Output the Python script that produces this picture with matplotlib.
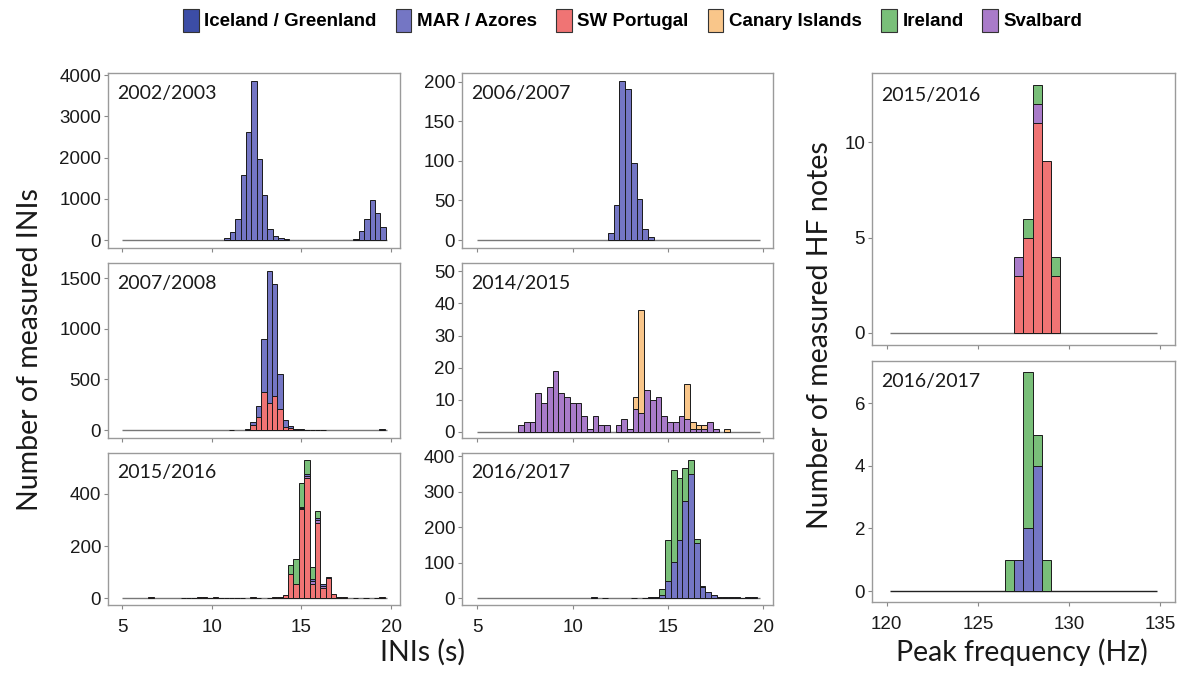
import matplotlib
matplotlib.use('Agg')
import matplotlib.pyplot as plt
import numpy as np
from matplotlib.patches import Patch

# regions and colours -------------------------------------------------
regions = ['Iceland / Greenland', 'MAR / Azores', 'SW Portugal', 'Canary Islands', 'Ireland', 'Svalbard']
region_colors = ['#3C4DA6', '#7476C4', '#F07474', '#F9C68A', '#79BF79', '#A97BC9']
ICE, MAR, POR, CAN, IRE, SVA = range(6)

ini_width = 0.3   # s
hf_width = 0.5    # Hz
ini_range = [5.0, 19.8]
hf_range = [120.2, 134.8]

# INIs, counts per bin (first bin centre given by *_start) ------------
y0203_start = 10.85
y0203_mar = [40, 200, 520, 1570, 2630, 3860, 1970, 1085, 265, 105, 50, 25,
             0, 0, 0, 0, 0, 0, 0, 0, 0, 0, 0, 0,
             25, 225, 506, 964, 667, 321]

y0607_start = 12.0
y0607_mar = [9, 44, 201, 191, 97, 52, 14, 4]

y0708_start = 11.1
y0708_portugal = [0, 0, 0, 0, 50, 130, 375, 267, 332, 205, 33, 16, 5, 5, 0,
                  0, 0, 0, 0, 0, 0, 0, 0, 0, 0, 0, 0, 0, 0]
y0708_mar = [5, 0, 0, 8, 25, 110, 525, 1303, 1108, 350, 65, 24, 5, 8, 5,
             3, 3, 3, 0, 0, 0, 0, 0, 0, 0, 0, 0, 0, 10]

y1415_start = 7.3
y1415_svalbard = [2, 3, 3, 12, 9, 14, 19, 12, 11, 9, 9, 5, 1, 5, 2, 2, 0, 2, 4,
                  1, 7, 6, 13, 10, 11, 5, 3, 3, 5, 4, 1, 1, 1, 3, 1, 0, 0]
y1415_canary = [0, 0, 0, 0, 0, 0, 0, 0, 0, 0, 0, 0, 0, 0, 0, 0, 0, 0, 0,
                0, 4, 32, 0, 0, 0, 0, 0, 0, 0, 11, 2, 1, 1, 0, 0, 0, 1]

y1516_start = 6.6
y1516_portugal = [3, 0, 0, 0, 0, 0, 2, 2, 2, 3, 4, 2, 4, 2, 2, 2, 2, 2, 0, 6,
                  2, 0, 2, 3, 5, 13, 94, 56, 341, 460, 55, 289, 39, 78, 16, 4,
                  3, 0, 2, 0, 2, 0, 2, 3]
y1516_svalbard = [0, 0, 0, 0, 0, 0, 0, 0, 0, 0, 0, 0, 0, 0, 0, 0, 0, 0, 0, 0,
                  0, 0, 0, 0, 0, 0, 0, 0, 6, 10, 10, 10, 8, 3, 0, 0,
                  0, 0, 0, 0, 0, 0, 0, 0]
y1516_mar = [0, 0, 0, 0, 0, 0, 0, 0, 0, 0, 0, 0, 0, 0, 0, 0, 0, 0, 0, 0,
             0, 0, 0, 0, 0, 0, 0, 0, 4, 6, 10, 10, 8, 0, 0, 0,
             0, 0, 0, 0, 0, 0, 0, 0]
y1516_ireland = [0, 0, 0, 0, 0, 0, 0, 0, 0, 0, 0, 0, 0, 0, 0, 0, 0, 0, 0, 0,
                 0, 0, 0, 0, 0, 0, 33, 94, 91, 55, 46, 27, 0, 0, 0, 0,
                 0, 0, 0, 0, 0, 0, 0, 0]

y1617_start = 10.8
y1617_mar = [0, 2, 0, 1, 0, 0, 0, 0, 1, 0, 1, 2, 3, 9, 47, 101, 163, 274, 350,
             156, 30, 16, 9, 4, 3, 2, 2, 1, 2, 2]
y1617_ireland = [0, 0, 0, 0, 0, 0, 0, 0, 0, 0, 0, 0, 0, 17, 117, 261, 176, 92,
                 40, 10, 3, 0, 0, 0, 0, 0, 0, 0, 0, 0]

# HF notes peak frequency ----------------------------------------------
hf1516_start = 127.25
hf1516_portugal = [3, 5, 11, 9, 3]
hf1516_svalbard = [1, 0, 1, 0, 0]
hf1516_ireland = [0, 1, 1, 0, 1]

hf1617_start = 126.75
hf1617_mar = [0, 1, 2, 4, 0]
hf1617_ireland = [1, 0, 5, 1, 1]

# panels: (title, start, layers bottom->top, yticks, ymax)
ini_panels = [
    ('2002/2003', y0203_start, [(MAR, y0203_mar)], [0, 1000, 2000, 3000, 4000], None),
    ('2006/2007', y0607_start, [(MAR, y0607_mar)], [0, 50, 100, 150, 200], None),
    ('2007/2008', y0708_start, [(POR, y0708_portugal), (MAR, y0708_mar)], [0, 500, 1000, 1500], None),
    ('2014/2015', y1415_start, [(SVA, y1415_svalbard), (CAN, y1415_canary)], [0, 10, 20, 30, 40, 50], 52.6),
    ('2015/2016', y1516_start, [(POR, y1516_portugal), (SVA, y1516_svalbard), (MAR, y1516_mar),
                                (IRE, y1516_ireland)], [0, 200, 400], None),
    ('2016/2017', y1617_start, [(MAR, y1617_mar), (IRE, y1617_ireland)], [0, 100, 200, 300, 400], None),
]
hf_panels = [
    ('2015/2016', hf1516_start, [(POR, hf1516_portugal), (SVA, hf1516_svalbard), (IRE, hf1516_ireland)],
     [0, 5, 10], None),
    ('2016/2017', hf1617_start, [(MAR, hf1617_mar), (IRE, hf1617_ireland)], [0, 2, 4, 6], None),
]

W, H = 1185, 675
fig = plt.figure(figsize=(W / 100, H / 100), dpi=100)


def add_ax(l, t, r, b):
    return fig.add_axes([l / W, 1 - b / H, (r - l) / W, (b - t) / H])


def draw_panel(ax, title, start, width, layers, yticks, ymax, xr, xlim, xticks, show_xlabels, base_col, ty):
    n = len(layers[0][1])
    centers = start + width * np.arange(n)
    bottom = np.zeros(n)
    ax.hlines(0, xr[0], xr[1], color=base_col, lw=1.0, zorder=1)
    for reg, counts in layers:
        counts = np.array(counts, dtype=float)
        m = counts > 0
        ax.bar(centers[m], counts[m], width=width, bottom=bottom[m], color=region_colors[reg],
               edgecolor='#1a1a1a', linewidth=0.7, zorder=2)
        bottom += counts
    top = ymax if ymax is not None else bottom.max() * 1.05
    ax.set_ylim(-0.05 * bottom.max(), top)
    ax.set_xlim(*xlim)
    ax.set_yticks(yticks)
    ax.set_xticks(xticks)
    if not show_xlabels:
        ax.set_xticklabels([])
    for s in ax.spines.values():
        s.set_color('#9a9a9a')
        s.set_linewidth(1.0)
    ax.tick_params(direction='out', length=3, color='#888888', labelsize=13.5, labelcolor='#1a1a1a', pad=2)
    ax.tick_params(axis='x', pad=7)
    for lab in ax.get_xticklabels() + ax.get_yticklabels():
        lab.set_family('Liberation Sans')
    ax.text(0.03, ty, title, transform=ax.transAxes, ha='left', va='top',
            fontsize=14, family='Lato', color='#1a1a1a')


cols = [(108, 400), (462, 773)]
rows = [(73, 248), (263, 438), (453, 605)]
for i, (title, start, layers, yticks, ymax) in enumerate(ini_panels):
    r, c = divmod(i, 2)
    ax = add_ax(cols[c][0], rows[r][0], cols[c][1], rows[r][1])
    draw_panel(ax, title, start, ini_width, layers, yticks, ymax, ini_range, (4.2, 20.5),
               [5, 10, 15, 20], r == 2, '#777777', 0.93)

hf_rows = [(73, 345), (361, 602)]
for i, (title, start, layers, yticks, ymax) in enumerate(hf_panels):
    ax = add_ax(872, hf_rows[i][0], 1175, hf_rows[i][1])
    draw_panel(ax, title, start, hf_width, layers, yticks, ymax, hf_range, (119.2, 135.8),
               [120, 125, 130, 135], i == 1, '#777777' if i == 0 else '#222222', 0.95)

lab_kw = dict(fontsize=20.5, family='Lato', color='#1a1a1a', ha='center', va='center')
fig.text(30 / W, 1 - 350 / H, 'Number of measured INIs', rotation=90, **lab_kw)
fig.text(422 / W, 1 - 652 / H, 'INIs (s)', **lab_kw)
fig.text(820 / W, 1 - 335 / H, 'Number of measured HF notes', rotation=90, **lab_kw)
fig.text(1022 / W, 1 - 652 / H, 'Peak frequency (Hz)', **lab_kw)

handles = [Patch(facecolor=c, edgecolor='#333333', linewidth=0.8, label=r)
           for r, c in zip(regions, region_colors)]
fig.legend(handles=handles, loc='upper center', bbox_to_anchor=(0.534, 1.012), ncol=6, frameon=False,
           prop={'family': 'Liberation Sans', 'weight': 'bold', 'size': 13.5},
           handlelength=0.85, handleheight=1.5, handletextpad=0.3, columnspacing=1.0)

fig.savefig('out.png', dpi=100)
